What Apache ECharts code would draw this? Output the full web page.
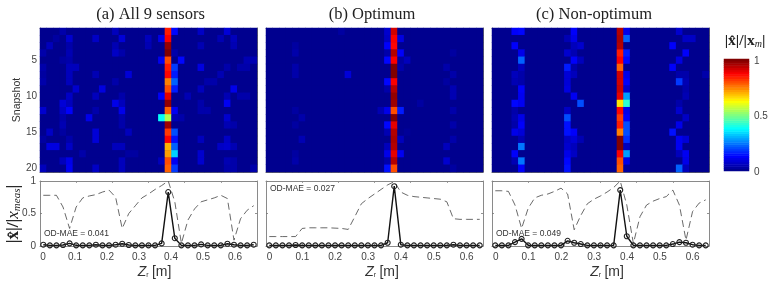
<!DOCTYPE html>
<html><head><meta charset="utf-8">
<style>html,body{margin:0;padding:0;background:#fff}#c{width:778px;height:291px}</style>
<script src="https://cdn.jsdelivr.net/npm/echarts@6/dist/echarts.min.js"></script>
</head><body><div id="c"></div>
<script>
// Heat-map cell values, in hundredths, one line per snapshot (1..20), one column per Z position
const heatA = [
[0,0,0,3,0,0,0,0,0,0,0,5,0,0,0,0,0,0,0,85,13,0,0,0,6,0,0,0,8,0,0,0,0],
[0,0,2,0,7,0,0,0,6,0,0,0,8,0,0,0,5,0,10,88,0,0,0,0,0,0,0,4,0,5,0,0,0],
[0,5,0,0,3,0,0,0,0,0,0,4,0,0,0,0,4,0,0,98,0,0,0,0,4,0,0,0,0,4,0,0,0],
[3,0,0,0,4,0,0,0,0,0,0,6,3,0,0,0,0,0,0,100,3,0,0,0,0,0,0,0,0,0,0,0,0],
[0,0,0,2,3,0,0,0,0,0,0,0,0,0,0,0,0,0,11,80,0,13,0,0,0,0,0,0,0,0,0,4,4],
[3,0,0,0,5,5,0,0,0,0,0,0,0,0,0,0,0,0,0,85,18,0,0,0,9,0,0,0,3,0,3,3,0],
[2,0,0,0,5,0,0,0,4,0,0,0,0,8,0,0,0,0,0,87,15,0,0,0,0,0,0,4,0,0,0,0,0],
[3,0,0,0,5,0,0,0,0,0,0,3,0,0,0,0,0,0,0,75,22,0,0,0,0,3,3,0,0,0,0,0,0],
[0,0,0,0,0,7,0,0,0,9,0,0,0,0,0,0,0,0,0,80,15,0,0,0,5,0,0,0,0,10,0,0,0],
[0,0,0,0,6,0,0,0,5,0,0,0,3,0,0,0,0,0,12,90,0,0,4,0,0,0,0,0,4,0,3,3,0],
[0,0,0,8,5,0,0,0,0,0,0,10,5,0,0,0,0,0,0,98,0,0,0,0,3,0,0,0,11,0,0,0,0],
[7,0,0,6,12,0,0,0,3,0,0,0,10,0,0,0,0,0,0,78,11,0,0,0,3,3,0,0,0,0,0,0,0],
[0,0,0,3,0,0,0,10,0,0,0,0,3,0,0,0,0,0,38,55,4,3,0,0,0,0,0,0,7,0,0,0,0],
[0,0,0,4,0,0,0,0,0,0,0,0,3,0,0,0,0,0,0,97,0,0,0,0,0,0,0,0,4,3,0,0,0],
[0,6,0,2,0,0,0,0,8,0,0,0,0,5,0,0,0,0,0,82,20,0,0,0,0,0,0,0,0,0,0,0,0],
[2,0,0,0,3,0,0,0,8,0,0,0,0,0,0,0,0,0,0,88,14,0,0,0,5,0,0,0,6,0,0,0,0],
[0,9,9,0,6,0,0,0,0,0,0,5,5,0,0,0,0,0,0,70,22,0,0,0,0,0,0,6,7,4,0,0,0],
[0,0,0,0,0,0,3,0,0,0,0,0,0,2,2,0,0,0,0,72,33,0,0,0,7,0,0,0,0,0,0,0,0],
[0,0,0,5,10,0,0,0,0,0,0,0,5,0,0,0,0,0,5,80,11,0,0,0,7,0,0,0,4,3,0,0,0],
[5,0,0,0,11,0,0,0,6,0,0,0,5,0,0,0,0,0,0,78,18,0,0,0,0,0,0,0,3,3,0,0,3]];
const heatB = [
[0,0,0,0,0,0,0,0,0,0,0,2,0,0,0,0,0,0,7,92,0,0,0,0,0,0,0,0,0,0,0,0,0],
[0,0,0,0,0,0,0,0,0,0,0,0,0,0,0,0,0,0,6,88,9,0,0,0,0,0,0,0,0,0,0,0,0],
[0,0,0,0,2,0,0,0,0,0,0,0,0,0,0,0,0,0,12,87,0,0,0,0,0,0,0,0,0,0,0,0,0],
[0,0,0,0,3,0,0,0,0,0,0,0,0,0,0,0,0,0,3,95,12,0,0,0,0,0,0,0,2,0,0,0,0],
[0,0,0,0,0,0,0,0,0,0,0,0,0,0,0,0,0,0,13,88,2,5,0,0,0,0,0,0,0,0,0,0,0],
[0,0,0,0,3,0,0,0,0,0,0,0,0,0,0,0,0,0,0,100,3,0,0,0,0,0,0,3,0,0,0,0,0],
[0,0,0,0,3,0,0,0,0,0,0,0,8,0,0,0,0,0,0,100,0,0,0,0,0,0,0,0,3,0,0,0,0],
[0,0,0,0,0,0,0,0,0,0,0,0,0,0,0,0,0,0,13,88,0,0,0,0,0,0,0,2,0,0,0,0,0],
[0,0,0,0,0,0,0,0,0,0,0,0,0,0,0,0,0,0,3,95,0,0,0,0,0,0,0,0,4,0,0,0,0],
[0,0,0,0,0,0,0,0,0,0,0,0,0,0,0,0,0,0,0,98,0,0,0,0,0,0,0,0,4,0,0,0,0],
[0,0,0,0,0,0,0,0,0,0,0,0,0,0,0,0,0,0,0,97,0,0,0,2,0,0,0,0,0,0,0,0,0],
[0,0,0,0,2,0,0,0,0,0,0,0,0,0,0,0,0,4,10,80,15,0,0,0,0,0,0,0,3,0,0,0,0],
[0,0,0,0,0,3,0,0,0,0,0,0,0,0,0,0,0,0,0,100,0,0,0,0,0,0,0,0,0,0,0,0,0],
[0,0,0,0,2,0,0,0,0,0,0,0,0,0,0,0,0,0,13,90,0,0,0,0,0,0,0,0,3,0,0,0,0],
[0,0,0,0,0,0,0,0,0,0,0,0,0,0,0,0,0,0,4,95,0,1,0,0,0,0,0,0,0,0,0,0,0],
[0,0,0,0,0,4,0,0,0,0,0,0,0,0,0,0,0,0,0,96,5,0,0,0,0,0,0,0,3,0,0,0,0],
[0,0,0,0,0,0,0,0,0,0,0,0,0,0,0,0,0,0,5,95,0,0,0,0,0,0,0,5,0,0,0,0,0],
[0,0,0,0,2,0,0,0,0,0,0,0,0,0,0,0,0,0,10,90,11,0,0,0,0,0,0,0,0,0,0,0,0],
[0,0,0,0,3,0,0,0,0,0,0,0,0,0,0,0,0,0,3,95,0,0,0,0,0,0,0,7,0,0,0,0,0],
[0,0,0,0,0,0,0,0,0,0,0,0,0,0,0,0,0,0,14,80,0,0,0,0,0,0,0,0,2,0,0,0,0]];
const heatC = [
[0,0,0,12,13,0,0,0,0,0,0,0,12,0,0,0,0,0,0,95,10,0,0,0,0,0,0,0,7,0,0,0,0],
[0,0,0,0,0,0,0,0,0,0,0,4,10,0,0,0,0,0,0,96,22,0,0,0,0,0,0,0,0,6,6,0,0],
[0,0,0,12,0,0,0,0,0,0,0,0,5,7,0,0,0,0,0,95,0,0,0,0,0,0,0,12,0,0,0,0,0],
[0,0,0,0,10,0,0,0,0,0,0,7,4,0,0,0,0,0,0,85,15,0,0,0,0,0,0,0,0,12,0,0,0],
[0,0,0,0,22,0,0,0,0,0,0,0,12,5,0,0,0,0,0,88,13,0,0,0,0,0,0,0,9,0,0,0,0],
[0,0,0,0,5,0,0,0,0,0,0,15,3,0,0,0,0,0,0,78,0,0,0,0,0,0,0,12,0,0,0,0,0],
[0,0,0,5,3,0,0,0,0,0,0,8,5,0,0,0,0,0,0,92,10,0,0,0,0,0,0,0,3,3,0,0,3],
[0,0,0,4,3,0,0,0,0,0,0,8,0,0,0,0,0,0,0,92,12,0,0,0,0,0,0,0,18,4,0,0,0],
[0,0,0,0,12,0,0,0,0,0,0,9,0,0,0,0,0,0,0,93,7,0,0,0,0,0,0,0,0,3,0,0,0],
[0,0,0,0,11,0,0,0,0,0,0,0,11,0,0,0,0,0,0,90,28,0,0,0,0,0,0,0,0,4,0,0,0],
[0,0,0,13,11,0,0,0,0,0,0,0,0,20,0,0,0,0,0,65,42,0,0,0,0,0,0,0,3,0,0,0,0],
[0,0,0,3,0,0,0,0,0,0,0,6,0,0,0,0,0,0,0,87,10,0,0,0,0,0,0,0,7,0,0,0,0],
[0,0,0,4,10,0,0,0,0,0,0,20,0,0,0,0,0,0,0,82,12,0,0,0,0,0,0,0,0,6,0,0,0],
[0,0,0,3,12,0,0,0,0,0,0,14,0,0,0,0,0,0,0,85,20,0,0,0,0,0,0,0,10,0,0,0,0],
[0,0,0,10,8,0,0,0,0,0,0,14,12,0,0,0,0,0,0,75,20,0,0,0,0,0,0,14,0,0,0,0,0],
[0,0,0,0,4,0,0,0,0,0,0,6,8,4,0,0,0,0,0,100,17,0,0,0,0,0,0,0,11,8,0,0,0],
[0,0,0,0,24,0,0,0,0,0,0,7,5,0,0,0,0,0,0,100,5,0,0,0,0,0,0,0,11,0,0,0,0],
[0,0,0,12,0,0,0,0,0,0,0,10,6,0,0,0,0,0,0,88,28,0,0,0,0,0,0,0,5,11,0,0,0],
[0,0,0,4,24,0,0,0,0,0,0,13,0,0,0,0,0,0,0,80,10,0,0,0,0,0,0,0,0,10,0,0,0],
[0,0,0,0,12,0,0,0,0,0,0,14,0,0,0,0,0,0,0,78,2,0,0,0,0,0,0,0,22,5,0,0,0]];

const zPositions = ['0','0.02','0.04','0.06','0.08','0.1','0.12','0.14','0.16','0.18','0.2','0.22','0.24','0.26','0.28','0.3','0.32','0.34','0.36','0.38','0.4','0.42','0.44','0.46','0.48','0.5','0.52','0.54','0.56','0.58','0.6','0.62','0.64'];
const snapshots = ['1','2','3','4','5','6','7','8','9','10','11','12','13','14','15','16','17','18','19','20'];

const recA = [.02,.01,.01,.015,.04,.01,.01,.01,.02,.01,.01,.02,.035,.015,.01,.01,.01,.01,.04,.83,.12,.01,.01,.01,.025,.01,.01,.01,.035,.02,.01,.01,.02];
const recB = [.01,.01,.01,.01,.015,.01,.01,.01,.01,.01,.01,.01,.01,.01,.01,.01,.01,.01,.05,.92,.02,.01,.01,.01,.01,.01,.01,.01,.02,.01,.01,.01,.01];
const recC = [.01,.01,.01,.06,.11,.01,.01,.01,.01,.01,.01,.08,.05,.03,.01,.01,.01,.01,.01,.86,.15,.01,.01,.01,.01,.01,.01,.03,.06,.05,.02,.01,.01];
const measA = [.78,.78,.78,.6,.27,.6,.74,.77,.79,.83,.86,.75,.27,.5,.62,.74,.8,.87,.93,1,.68,.04,.4,.57,.68,.71,.74,.78,.73,.09,.42,.55,.62];
const measB = [.145,.145,.145,.145,.145,.27,.28,.28,.28,.28,.275,.27,.255,.45,.65,.73,.8,.87,.94,.99,.83,.78,.76,.75,.74,.73,.72,.68,.42,.41,.41,.41,.41];
const measC = [.85,.85,.84,.63,.27,.58,.74,.78,.8,.84,.89,.8,.25,.47,.65,.72,.77,.83,.9,1,.63,.04,.45,.63,.69,.73,.76,.86,.63,.09,.53,.66,.71];

const scaleTicks = ['0','0.1','0.2','0.3','0.4','0.5','0.6'];
const panelTitles = ['(a) All 9 sensors','(b) Optimum','(c) Non-optimum'];
const maeLabels = ['OD-MAE = 0.041','OD-MAE = 0.027','OD-MAE = 0.049'];
const heats = [heatA, heatB, heatC];
const recs = [recA, recB, recC];
const meas = [measA, measB, measC];
const jetStops = ['#00008f','#0000ff','#0080ff','#00ffff','#80ff80','#ffff00','#ff8000','#ff0000','#800000'];
const barLevels = [0,.02,.04,.06,.08,.1,.12,.14,.16,.18,.2,.22,.24,.26,.28,.3,.32,.34,.36,.38,.4,.42,.44,.46,.48,.5,.52,.54,.56,.58,.6,.62,.64,.66,.68,.7,.72,.74,.76,.78,.8,.82,.84,.86,.88,.9,.92,.94,.96,.98,1];

// Layout
const plotX = [40, 266, 492], plotW = [217, 217, 217];
const heatTop = 28, heatH = 144, lineTop = 181, lineH = 65;
const labelX = [43, 269.5, 495.7], labelW = [192, 197.2, 197];
const titleX = [150.5, 372, 594], maePos = [[44,234],[270,189],[496,234]], zNameX = [154.5, 382, 607];
const frame = '#6a6a6a', tickCol = '#444', sans = '"Liberation Sans", Arial, sans-serif', serif = '"Liberation Serif", serif';

const grid = [], xAxis = [], yAxis = [], series = [], graphic = [];
const line = c => ({show:true, onZero:false, lineStyle:{color:c, width:1}});
function tickAxis(g, pos, c){
  xAxis.push({gridIndex:g, type:'value', position:pos, min:0, max:6, interval:1,
    axisLine:line(c), axisTick:{show:true, inside:true, length:2, lineStyle:{color:c, width:.8}},
    axisLabel:{show:false}, splitLine:{show:false}});
}
const heatIdx = [];
heats.forEach((rows, p) => {
  // heat-map grid
  let g = grid.length;
  grid.push({left:plotX[p], top:heatTop, width:plotW[p], height:heatH, show:true, backgroundColor:jetStops[0], borderWidth:0});
  const xi = xAxis.length, yi = yAxis.length;
  xAxis.push({gridIndex:g, type:'category', data:zPositions, axisLine:{show:false}, axisTick:{show:false}, axisLabel:{show:false}, splitLine:{show:false}});
  yAxis.push({gridIndex:g, type:'category', data:snapshots, inverse:true, position:'left',
    axisLine:line(frame), splitLine:{show:false},
    axisTick:{show:true, inside:true, length:2, alignWithLabel:true, interval:(i)=>(i+1)%5===0, lineStyle:{color:'#ddd', width:.8}},
    axisLabel:{show:p===0, interval:(i)=>(i+1)%5===0, color:tickCol, fontFamily:sans, fontSize:10, margin:3}});
  yAxis.push({gridIndex:g, type:'value', position:'right', min:0, max:1, axisLine:line(frame), axisTick:{show:false}, axisLabel:{show:false}, splitLine:{show:false}});
  tickAxis(g,'bottom',frame); tickAxis(g,'top',frame);
  const cells = [];
  rows.forEach((r, ri) => r.forEach((v, ci) => cells.push([ci, ri, v/100])));
  heatIdx.push(series.length);
  series.push({type:'heatmap', xAxisIndex:xi, yAxisIndex:yi, data:cells, progressive:0, animation:false, z:1, itemStyle:{borderWidth:0}});

  // line grid
  g = grid.length;
  grid.push({left:plotX[p], top:lineTop, width:plotW[p], height:lineH});
  const lx = xAxis.length, ly = yAxis.length;
  xAxis.push({gridIndex:g, type:'category', data:zPositions, axisLine:{show:false}, axisTick:{show:false}, axisLabel:{show:false}});
  yAxis.push({gridIndex:g, type:'value', position:'left', min:0, max:1, interval:.5, axisLine:line('#8a8a8a'),
    axisTick:{show:true, inside:true, length:2, lineStyle:{color:'#777', width:.8}},
    axisLabel:{show:p===0, color:tickCol, fontFamily:sans, fontSize:10, margin:4, formatter:v=>String(v)}, splitLine:{show:false}});
  yAxis.push({gridIndex:g, type:'value', position:'right', min:0, max:1, interval:.5, axisLine:line('#8a8a8a'),
    axisTick:{show:true, inside:true, length:2, lineStyle:{color:'#777', width:.8}}, axisLabel:{show:false}, splitLine:{show:false}});
  tickAxis(g,'bottom','#8a8a8a'); tickAxis(g,'top','#8a8a8a');
  series.push({type:'line', xAxisIndex:lx, yAxisIndex:ly, data:meas[p], symbol:'none', clip:false, animation:false,
    lineStyle:{color:'#444', width:.8, type:[7,4]}, z:2});
  series.push({type:'line', xAxisIndex:lx, yAxisIndex:ly, data:recs[p], symbol:'circle', showSymbol:true, showAllSymbol:true, symbolSize:5, clip:false, animation:false,
    lineStyle:{color:'#111', width:1.4}, itemStyle:{color:'rgba(255,255,255,0)', borderColor:'#222', borderWidth:1.1, opacity:1}, z:3});

  // scale label axis
  g = grid.length;
  grid.push({left:labelX[p], top:lineTop, width:labelW[p], height:lineH});
  xAxis.push({gridIndex:g, type:'value', min:0, max:.6, interval:.1, axisLine:{show:false}, axisTick:{show:false}, splitLine:{show:false},
    axisLabel:{color:tickCol, fontFamily:sans, fontSize:10, margin:6, hideOverlap:false, formatter:v=>scaleTicks[Math.round(v*10)]}});
  yAxis.push({gridIndex:g, type:'value', min:0, max:1, show:false});

  graphic.push({type:'text', x:titleX[p], y:15, style:{text:panelTitles[p], font:'16.5px '+serif, fill:'#222', textAlign:'center', textVerticalAlign:'middle'}});
  graphic.push({type:'text', x:maePos[p][0], y:maePos[p][1], style:{text:maeLabels[p], font:'8.5px '+sans, fill:'#333', textVerticalAlign:'middle'}});
  graphic.push({type:'text', x:zNameX[p], y:272, style:{
    text:'{z|Z}{r|r} {u|[m]}', textAlign:'center', textVerticalAlign:'middle',
    rich:{z:{font:'italic 14px '+sans, fill:'#333'}, r:{font:'7px '+sans, fill:'#333', verticalAlign:'bottom', padding:[6,0,0,0]}, u:{font:'14px '+sans, fill:'#333'}}}});
});

// colour bar: a one-column heat map plus a value axis that carries its labels
const barX = 724, barW = 25, barTop = 59, barH = 112;
{
  let g = grid.length;
  grid.push({left:barX, top:barTop, width:barW, height:barH});
  const xi = xAxis.length, yi = yAxis.length;
  xAxis.push({gridIndex:g, type:'category', data:['bar'], show:false});
  yAxis.push({gridIndex:g, type:'category', data:barLevels.map(String), show:false});
  heatIdx.push(series.length);
  series.push({type:'heatmap', xAxisIndex:xi, yAxisIndex:yi, data:barLevels.map((v,i)=>[0,i,v]), progressive:0, animation:false, silent:true});
  g = grid.length;
  grid.push({left:barX, top:barTop+2, width:barW, height:barH-1});
  xAxis.push({gridIndex:g, type:'value', min:0, max:1, show:false});
  yAxis.push({gridIndex:g, type:'value', position:'right', min:0, max:1, interval:.5, axisLine:{show:false}, axisTick:{show:false},
    axisLabel:{color:tickCol, fontFamily:sans, fontSize:10, margin:5, formatter:v=>String(v)}, splitLine:{show:false}});
}
graphic.push({type:'text', x:17, y:100, rotation:Math.PI/2, style:{text:'Snapshot', font:'10.5px '+sans, fill:'#333', textAlign:'center', textVerticalAlign:'middle'}});
graphic.push({type:'text', x:14, y:214, rotation:Math.PI/2, style:{
  text:'{b||x\u0302|/|}{i|x}{s|meas}{b||}', textAlign:'center', textVerticalAlign:'middle',
  rich:{b:{font:'bold 17px '+serif, fill:'#222'}, i:{font:'italic 17px '+serif, fill:'#222'}, s:{font:'italic 11px '+serif, fill:'#222', verticalAlign:'bottom'}}}});
graphic.push({type:'text', x:745, y:41, style:{
  text:'{b||x\u0302|/|x}{s|m}{b||}', textAlign:'center', textVerticalAlign:'middle',
  rich:{b:{font:'bold 15.5px '+serif, fill:'#222'}, s:{font:'italic 10px '+serif, fill:'#222', verticalAlign:'bottom'}}}});

const chart = echarts.init(document.getElementById('c'), null, {renderer:'canvas'});
chart.setOption({
  animation:false, backgroundColor:'#fff', grid, xAxis, yAxis, series, graphic,
  visualMap:{type:'continuous', seriesIndex:heatIdx, min:0, max:1, show:false, inRange:{color:jetStops}}
});
</script></body></html>
